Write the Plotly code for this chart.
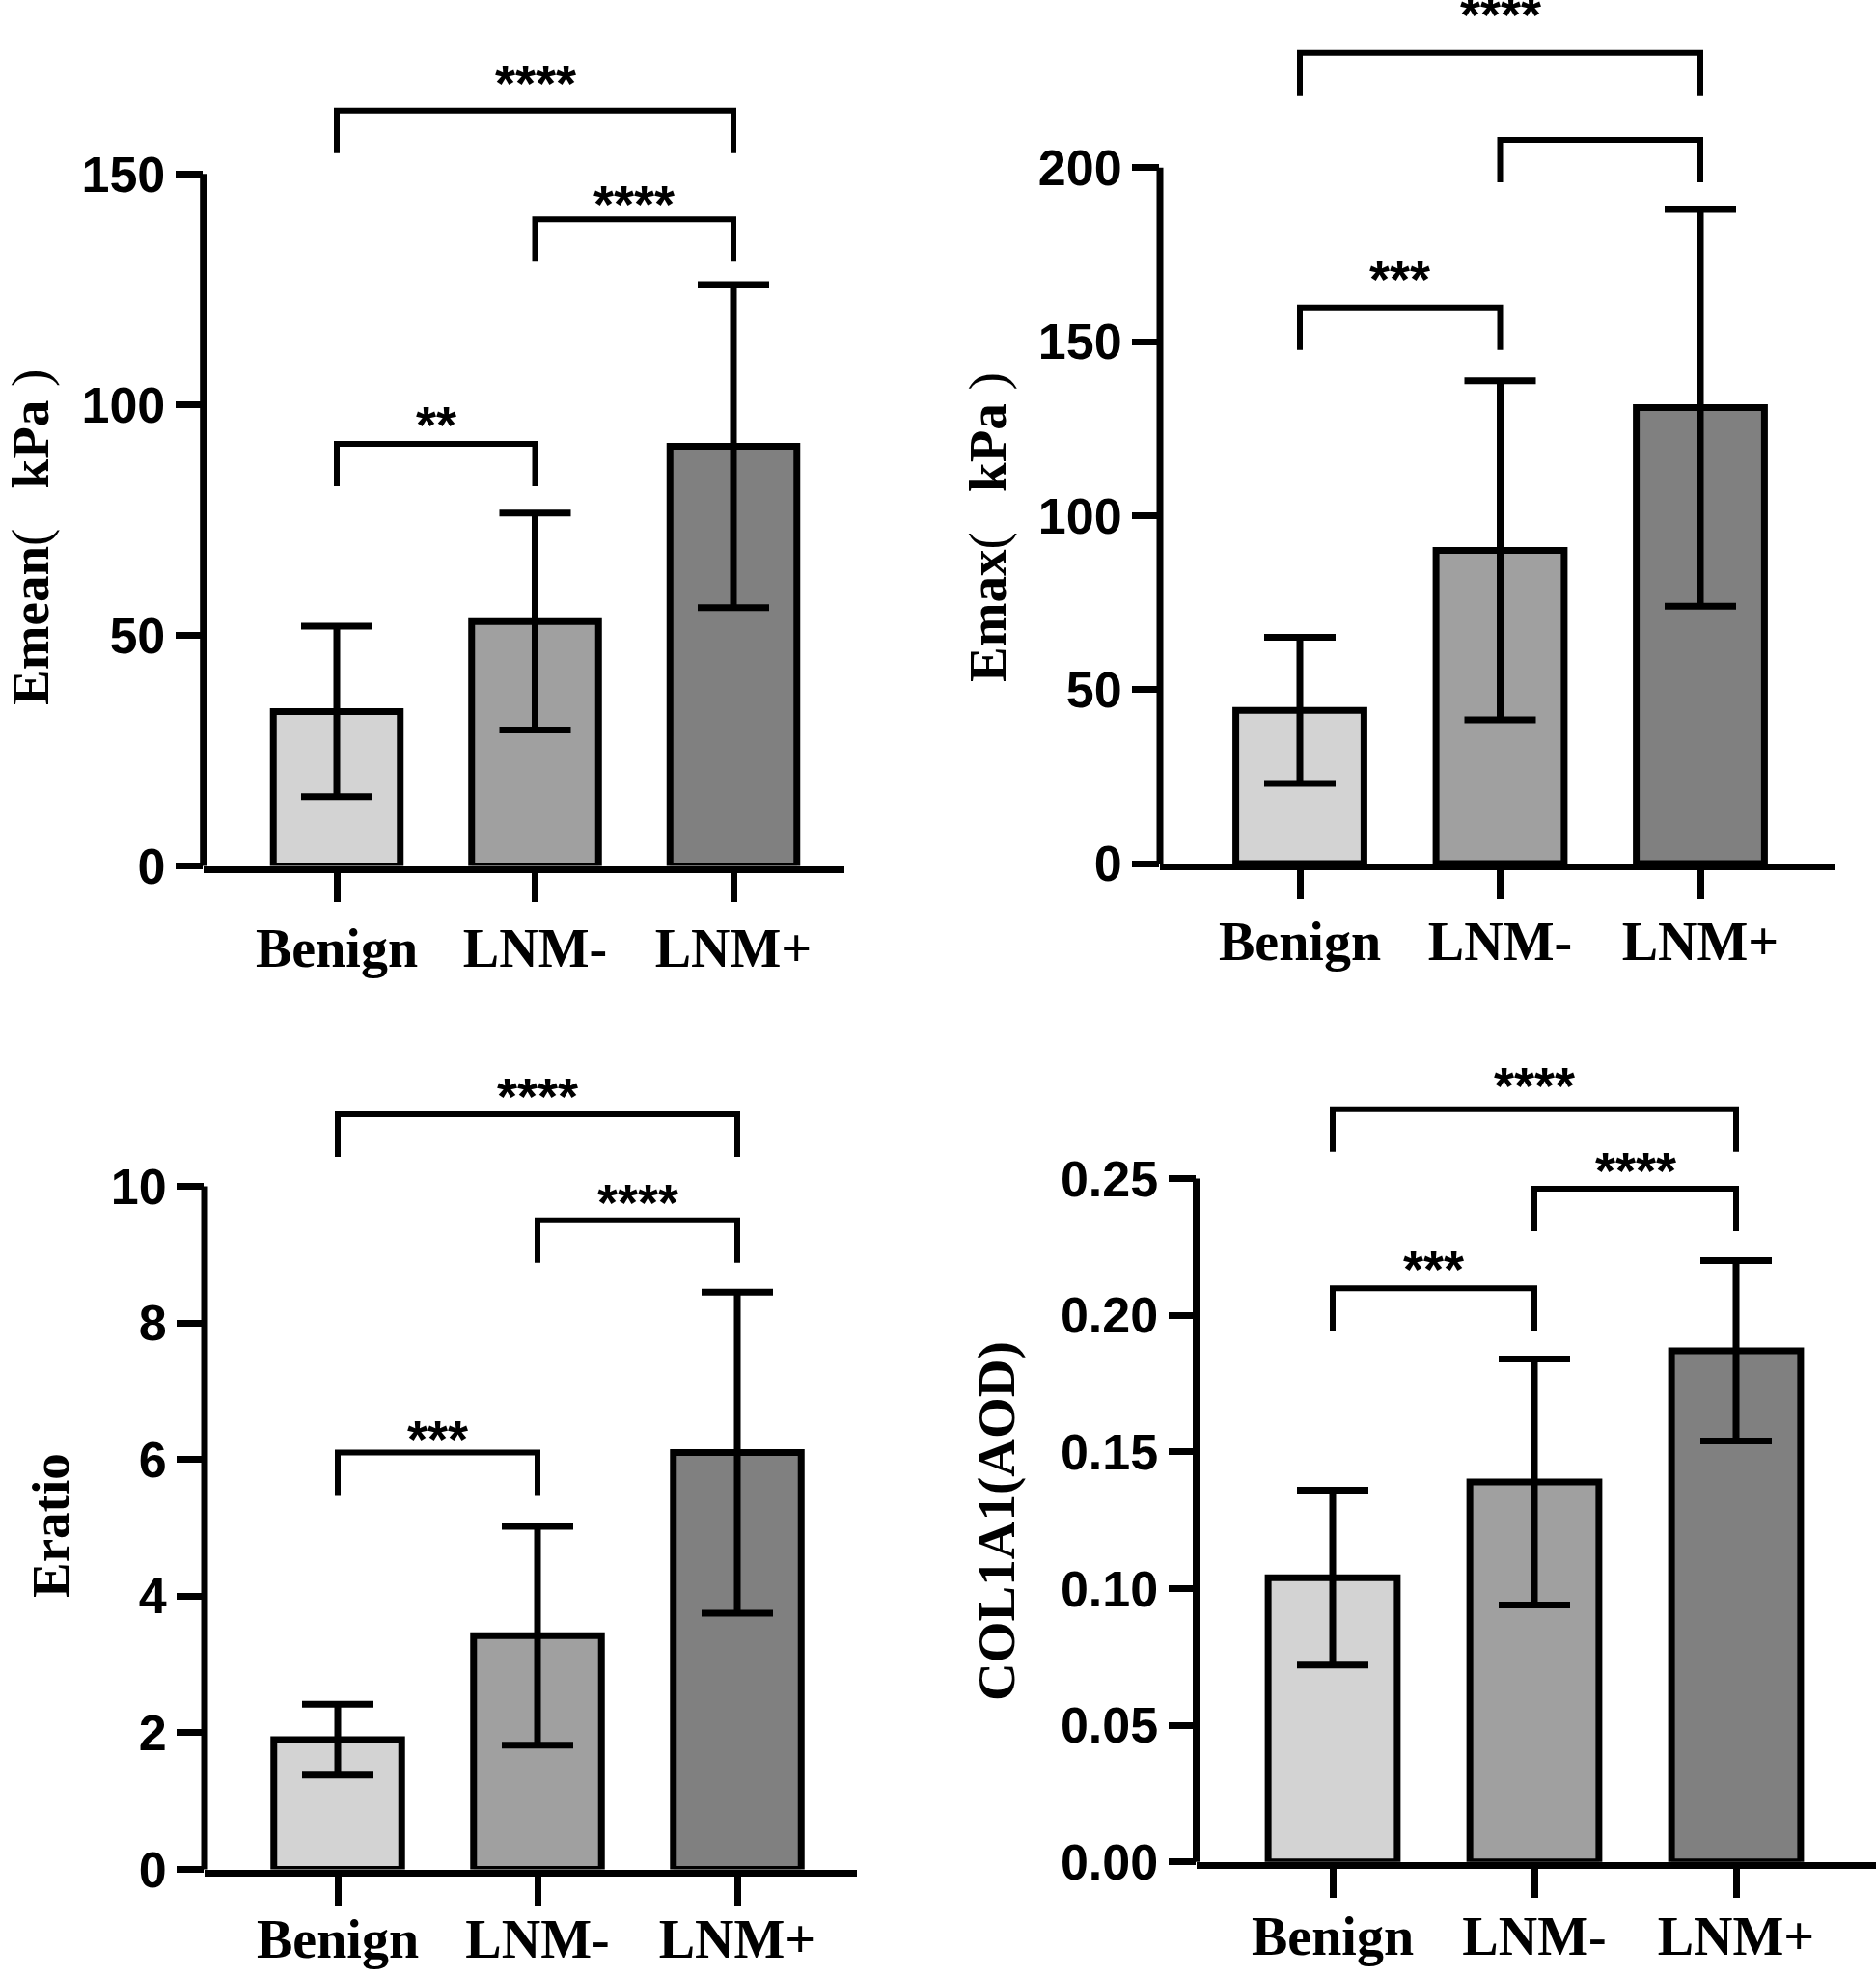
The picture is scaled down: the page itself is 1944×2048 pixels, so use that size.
import plotly.graph_objects as go

# ---------------- data ----------------
categories = ["Benign", "LNM-", "LNM+"]

emean_mean = [33.5, 53.0, 91.0]
emean_sd = [18.5, 23.5, 35.0]
emean_ticks = [0, 50, 100, 150]
emean_sig = [(0, 2, 163.7, "****"), (1, 2, 140.2, "****"), (0, 1, 91.5, "**")]

emax_mean = [44.0, 90.0, 131.0]
emax_sd = [21.0, 48.7, 57.0]
emax_ticks = [0, 50, 100, 150, 200]
emax_sig = [(0, 2, 233.0, "****"), (1, 2, 208.0, ""), (0, 1, 159.8, "***")]

eratio_mean = [1.90, 3.42, 6.10]
eratio_sd = [0.52, 1.60, 2.35]
eratio_ticks = [0, 2, 4, 6, 8, 10]
eratio_sig = [(0, 2, 11.05, "****"), (1, 2, 9.5, "****"), (0, 1, 6.1, "***")]

col_mean = [0.104, 0.139, 0.187]
col_sd = [0.032, 0.045, 0.033]
col_ticks = [0.0, 0.05, 0.10, 0.15, 0.20, 0.25]
col_sig = [(0, 2, 0.2754, "****"), (1, 2, 0.2463, "****"), (0, 1, 0.2099, "***")]

bar_colors = ["#d3d3d3", "#a0a0a0", "#808080"]

W, H = 1944, 2048
NB = "\u00a0"
PO = "<span style='font-weight:normal'>(</span>"
PC = "<span style='font-weight:normal'>)</span>"

# ---------------- layout geometry (pixels) ----------------
panels = [
    dict(mean=emean_mean, sd=emean_sd, ticks=emean_ticks, sig=emean_sig, fmt="",
         title="Emean" + PO + NB * 3 + "kPa" + NB + PC,
         ax=210.7, right=875, c0=349, step=205.5,
         y0=897.6, ytop=180.3, top=20, tx=31, ty=557, lab_off=0,
         lab_shift=[29, 16, 20]),
    dict(mean=emax_mean, sd=emax_sd, ticks=emax_ticks, sig=emax_sig, fmt="",
         title="Emax" + PO + NB * 3 + "kPa" + NB + PC,
         ax=1202, right=1901, c0=1347, step=207.5,
         y0=895.0, ytop=173.8, top=0, tx=1023, ty=547, lab_off=-4,
         lab_shift=[40, 24, 30]),
    dict(mean=eratio_mean, sd=eratio_sd, ticks=eratio_ticks, sig=eratio_sig, fmt="",
         title="Eratio",
         ax=212, right=888, c0=350, step=207,
         y0=1937.5, ytop=1229.4, top=1080, tx=52, ty=1581, lab_off=-13,
         lab_shift=[19, 19, 15]),
    dict(mean=col_mean, sd=col_sd, ticks=col_ticks, sig=col_sig, fmt=".2f",
         title="COL1A1(AOD)",
         ax=1239.5, right=1944, c0=1381, step=209,
         y0=1929.7, ytop=1221.6, top=1080, tx=1032, ty=1577, lab_off=-8,
         lab_shift=[25, 19, 20]),
]

LW = 7
fig = go.Figure()
shapes = []
annotations = []
layout_axes = {}

for i, p in enumerate(panels, start=1):
    xa = "x" if i == 1 else f"x{i}"
    ya = "y" if i == 1 else f"y{i}"
    xkey = "xaxis" if i == 1 else f"xaxis{i}"
    ykey = "yaxis" if i == 1 else f"yaxis{i}"

    tmax = p["ticks"][-1]
    ppu = (p["y0"] - p["ytop"]) / tmax
    ymax = (p["y0"] - p["top"]) / ppu
    xmin = -(p["c0"] - p["ax"]) / p["step"]
    xmax = 2 + (p["right"] - (p["c0"] + 2 * p["step"])) / p["step"]

    fig.add_trace(go.Bar(
        x=[0, 1, 2], y=p["mean"], width=0.64,
        marker=dict(color=bar_colors, line=dict(color="black", width=LW)),
        error_y=dict(type="data", array=p["sd"], visible=True,
                     color="black", thickness=LW, width=37),
        xaxis=xa, yaxis=ya, showlegend=False,
    ))

    layout_axes[xkey] = dict(
        domain=[p["ax"] / W, min(p["right"] / W, 1)],
        range=[xmin, xmax], anchor=ya, automargin=False,
        tickvals=[0, 1, 2], ticktext=categories,
        showline=True, linecolor="black", linewidth=LW,
        ticks="outside", ticklen=30, tickwidth=LW, tickcolor="black",
        ticklabelstandoff=p["lab_off"],
        tickfont=dict(family="Liberation Serif", size=56, color="black", weight="bold"),
        showgrid=False, zeroline=False, fixedrange=True,
    )
    layout_axes[ykey] = dict(
        domain=[1 - p["y0"] / H, 1 - p["top"] / H],
        range=[0, ymax], anchor=xa, automargin=False,
        tickvals=p["ticks"], tickformat=p["fmt"],
        showline=False,
        ticks="outside", ticklen=28, tickwidth=LW, tickcolor="black",
        tickfont=dict(family="Liberation Sans", size=52, color="black", weight="bold"),
        showgrid=False, zeroline=False, fixedrange=True,
    )

    # y-axis line from 0 up to last tick
    shapes.append(dict(type="line", xref=f"{xa} domain", yref=f"{ya} domain",
                       x0=0, x1=0, y0=0, y1=tmax / ymax,
                       line=dict(color="black", width=LW)))

    leg = 44 / ppu
    for k, (a, b, yv, lab) in enumerate(p["sig"]):
        shapes.append(dict(type="path", xref=xa, yref=ya,
                           path=f"M {a},{yv - leg} L {a},{yv} L {b},{yv} L {b},{yv - leg}",
                           line=dict(color="black", width=6)))
        if lab:
            annotations.append(dict(x=(a + b) / 2, y=yv, xref=xa, yref=ya,
                                    text=lab, showarrow=False, yanchor="middle",
                                    yshift=p["lab_shift"][k],
                                    font=dict(family="Liberation Sans", size=54,
                                              color="black", weight="bold")))

    annotations.append(dict(x=p["tx"] / W, y=1 - p["ty"] / H, xref="paper", yref="paper",
                            text=p["title"], textangle=-90, showarrow=False,
                            xanchor="center", yanchor="middle",
                            font=dict(family="Liberation Serif", size=55,
                                      color="black", weight="bold")))

fig.update_layout(
    width=W, height=H, autosize=False,
    margin=dict(l=0, r=0, t=0, b=0, autoexpand=False),
    paper_bgcolor="white", plot_bgcolor="white",
    shapes=shapes, annotations=annotations,
    bargap=0.3,
    **layout_axes,
)

fig.write_html("out.html",
               config={"displayModeBar": False},
               post_script="document.body.style.margin='0px';document.body.style.padding='0px';")
